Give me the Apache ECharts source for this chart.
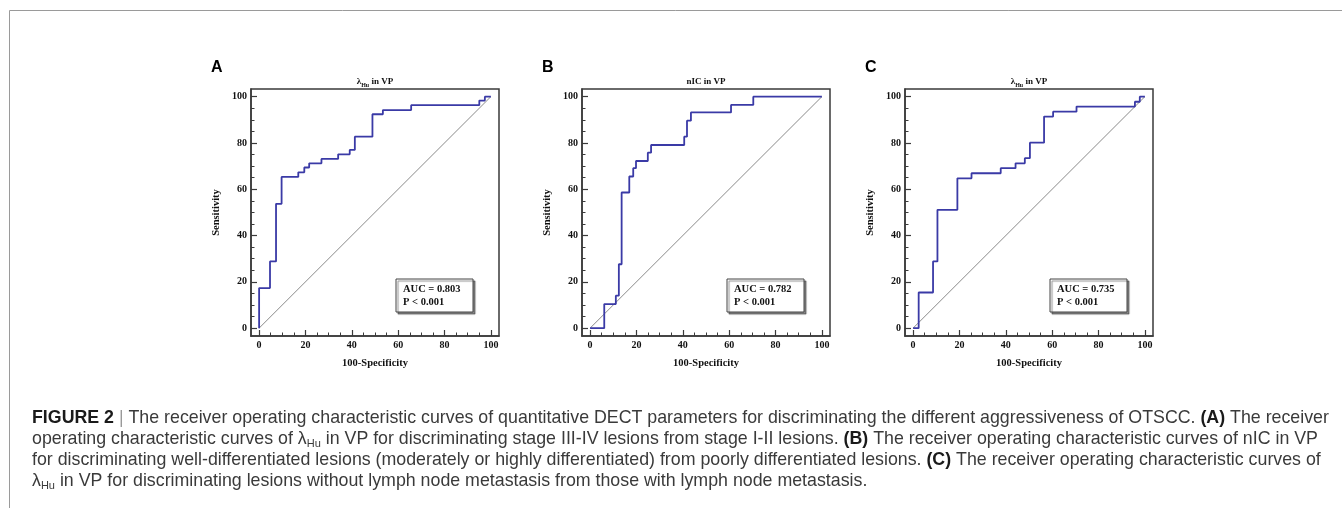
<!DOCTYPE html>
<html>
<head>
<meta charset="utf-8">
<script src="https://cdn.jsdelivr.net/npm/echarts@6/dist/echarts.min.js"></script>
<style>
  html, body { margin: 0; padding: 0; background: #fff; }
  #main { width: 1342px; height: 508px; }
</style>
</head>
<body>
<div id="main"></div>
<script>
// ROC points (100-Specificity, Sensitivity)
const fprA = [0, 0, 4.7, 7.3, 9.7, 16.9, 19.5, 21.6, 26.9, 34.1, 39.1, 41.3, 48.9, 53.4, 65.6, 95.0, 97.4, 100];
const tprA = [0, 17.3, 28.8, 53.7, 65.3, 67.3, 69.4, 71.2, 73.1, 75.1, 77.0, 82.7, 92.4, 94.2, 96.3, 98.3, 100, 100];

const fprB = [0, 6.1, 11.1, 12.4, 13.6, 16.9, 18.6, 19.8, 24.9, 26.3, 40.6, 41.8, 43.5, 60.8, 70.4, 100];
const tprB = [0, 10.4, 14.0, 27.6, 58.6, 65.5, 69.1, 72.2, 75.8, 79.1, 82.7, 89.6, 93.2, 96.4, 100, 100];

const fprC = [0, 2.4, 8.6, 10.5, 19.1, 25.2, 37.8, 44.2, 48.2, 50.4, 56.5, 60.4, 70.5, 95.7, 97.8, 100];
const tprC = [0, 15.4, 28.8, 51.1, 64.7, 66.9, 69.1, 71.2, 73.4, 80.1, 91.4, 93.5, 95.7, 97.8, 100, 100];

const refLine = [0, 100];
const majorTicks = [0, 20, 40, 60, 80, 100];
const minorTicks = [0, 5, 10, 15, 20, 25, 30, 35, 40, 45, 50, 55, 60, 65, 70, 75, 80, 85, 90, 95, 100];

const panelLetters = ['A', 'B', 'C'];
const panelTitles = ['{t|λ}{s|Hu}{t| in VP}', '{t|nIC in VP}', '{t|λ}{s|Hu}{t| in VP}'];
const aucValues = ['0.803', '0.782', '0.735'];
const pValues = ['< 0.001', '< 0.001', '< 0.001'];

const captionLines = [
  '{b|FIGURE 2} {g||} The receiver operating characteristic curves of quantitative DECT parameters for discriminating the different aggressiveness of OTSCC. {b|(A)} The receiver',
  'operating characteristic curves of λ{s|Hu} in VP for discriminating stage III-IV lesions from stage I-II lesions. {b|(B)} The receiver operating characteristic curves of nIC in VP',
  'for discriminating well-differentiated lesions (moderately or highly differentiated) from poorly differentiated lesions. {b|(C)} The receiver operating characteristic curves of',
  'λ{s|Hu} in VP for discriminating lesions without lymph node metastasis from those with lymph node metastasis.'
];

const serif = '"Liberation Serif", "Times New Roman", serif';
const sans = '"Liberation Sans", Arial, sans-serif';
const axisColor = '#3a3a3a';
const rocColor = '#3a3aa6';
const capSize = 17.8;

const gridLefts = [251, 582, 905];
const gridW = 248, gridTop = 89, gridH = 247;

const pairs = [[fprA, tprA], [fprB, tprB], [fprC, tprC]];

let chart = echarts.init(document.getElementById('main'), null, { renderer: 'canvas' });

let grids = [], xAxes = [], yAxes = [], series = [], titles = [], graphics = [];

gridLefts.forEach(function (left, i) {
    grids.push({ left: left, top: gridTop, width: gridW, height: gridH, show: true, borderColor: axisColor, borderWidth: 1.5, backgroundColor: 'transparent', containLabel: false, outerBoundsMode: 'none' });

    const labelStyle = { fontFamily: serif, fontWeight: 'bold', fontSize: 10, color: '#111' };
    const nameStyle = { fontFamily: serif, fontWeight: 'bold', fontSize: 10.5, color: '#111' };

    // main axes: labels + long ticks
    xAxes.push({
        gridIndex: i, type: 'value', min: -3.5, max: 103.5,
        axisLine: { onZero: false, lineStyle: { color: axisColor, width: 1.5 } },
        axisTick: { inside: true, length: 6, customValues: majorTicks, lineStyle: { color: axisColor, width: 1.2 } },
        axisLabel: Object.assign({ customValues: majorTicks, margin: 4 }, labelStyle),
        splitLine: { show: false },
        name: '100-Specificity', nameLocation: 'middle', nameGap: 22, nameTextStyle: nameStyle
    });
    yAxes.push({
        gridIndex: i, type: 'value', min: -3.4, max: 103.3,
        axisLine: { onZero: false, lineStyle: { color: axisColor, width: 1.5 } },
        axisTick: { inside: true, length: 6, customValues: majorTicks, lineStyle: { color: axisColor, width: 1.2 } },
        axisLabel: Object.assign({ customValues: majorTicks, margin: 4 }, labelStyle),
        splitLine: { show: false },
        name: 'Sensitivity', nameLocation: 'middle', nameGap: 29, nameTextStyle: nameStyle
    });
    // minor ticks every 5
    xAxes.push({
        gridIndex: i, type: 'value', min: -3.5, max: 103.5, position: 'bottom',
        axisLine: { show: false, onZero: false },
        axisTick: { inside: true, length: 3.5, customValues: minorTicks, lineStyle: { color: axisColor, width: 1 } },
        axisLabel: { show: false }, splitLine: { show: false }
    });
    yAxes.push({
        gridIndex: i, type: 'value', min: -3.4, max: 103.3, position: 'left',
        axisLine: { show: false, onZero: false },
        axisTick: { inside: true, length: 3.5, customValues: minorTicks, lineStyle: { color: axisColor, width: 1 } },
        axisLabel: { show: false }, splitLine: { show: false }
    });

    series.push({
        type: 'line', xAxisIndex: i * 2, yAxisIndex: i * 2,
        data: refLine.map(function (v) { return [v, v]; }),
        symbol: 'none', silent: true,
        lineStyle: { color: '#8a8a8a', width: 1 }
    });
    const fpr = pairs[i][0], tpr = pairs[i][1];
    series.push({
        type: 'line', xAxisIndex: i * 2, yAxisIndex: i * 2,
        data: fpr.map(function (x, k) { return [x, tpr[k]]; }),
        step: 'end', symbol: 'none',
        lineStyle: { color: rocColor, width: 1.8 }
    });

    titles.push({
        text: panelTitles[i],
        left: left + gridW / 2, top: 76, textAlign: 'center', padding: 0,
        textStyle: {
            rich: {
                t: { fontFamily: serif, fontWeight: 'bold', fontSize: 9, color: '#111', lineHeight: 12 },
                s: { fontFamily: serif, fontWeight: 'bold', fontSize: 6, color: '#111', lineHeight: 8, verticalAlign: 'bottom' }
            }
        }
    });

    // panel letter
    graphics.push({
        type: 'text', left: left - 40, top: 60,
        style: { text: panelLetters[i], font: 'bold 16px ' + sans, fill: '#000' }
    });

    // AUC box
    graphics.push({
        type: 'group', x: left + 145, y: 279,
        children: [
            { type: 'rect', shape: { x: 0, y: 0, width: 77, height: 33 },
              style: { fill: '#fff', stroke: '#444', lineWidth: 1, shadowColor: 'rgba(0,0,0,0.45)', shadowOffsetX: 2, shadowOffsetY: 2, shadowBlur: 1 } },
            { type: 'text', x: 7, y: 10,
              style: { text: 'AUC = ' + aucValues[i], font: 'bold 10.5px ' + serif, fill: '#111', verticalAlign: 'middle' } },
            { type: 'text', x: 7, y: 23,
              style: { text: 'P ' + pValues[i], font: 'bold 10.5px ' + serif, fill: '#111', verticalAlign: 'middle' } }
        ]
    });
});

// outer frame of the figure
graphics.push({ type: 'line', shape: { x1: 9.5, y1: 10.5, x2: 1342, y2: 10.5 }, style: { stroke: '#9a9a9a', lineWidth: 1 } });
graphics.push({ type: 'line', shape: { x1: 9.5, y1: 10.5, x2: 9.5, y2: 508 }, style: { stroke: '#9a9a9a', lineWidth: 1 } });

// caption
captionLines.forEach(function (line, k) {
    graphics.push({
        type: 'text', x: 32, y: 408 + k * 20.9,
        style: {
            text: line, font: capSize + 'px ' + sans, fill: '#3a3a3a', verticalAlign: 'top',
            lineHeight: 21,
            rich: {
                b: { fontFamily: sans, fontWeight: 'bold', fontSize: capSize, fill: '#1a1a1a', lineHeight: 21 },
                g: { fontFamily: sans, fontSize: capSize, fill: '#9a9a9a', lineHeight: 21 },
                s: { fontFamily: sans, fontSize: 11, fill: '#3a3a3a', lineHeight: 13, verticalAlign: 'bottom' }
            }
        }
    });
});

let option = {
    animation: false,
    backgroundColor: '#fff',
    title: titles,
    grid: grids,
    xAxis: xAxes,
    yAxis: yAxes,
    series: series,
    graphic: graphics
};

chart.setOption(option);
window.addEventListener('resize', function () {
    chart.resize();
});
</script>
</body>
</html>
